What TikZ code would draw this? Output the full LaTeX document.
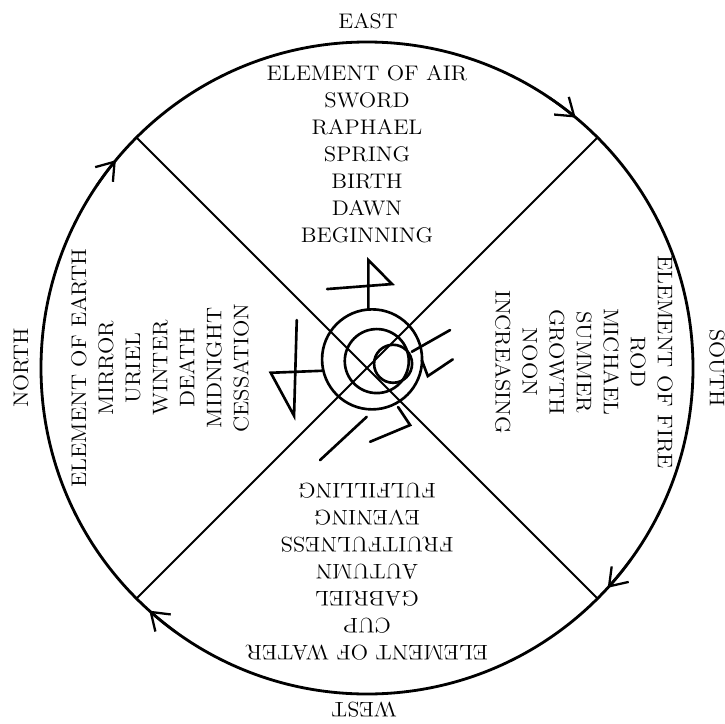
\documentclass[tikz,border=0pt]{standalone}
\usepackage{tikz}
\usetikzlibrary{arrows.meta}

\begin{document}
\begin{tikzpicture}[
  rim/.style={line width=1.6pt},
  spoke/.style={line width=1.1pt},
  arr/.style={line width=1.4pt, -{Straight Barb[length=0.33cm, width=0.46cm, line width=1.3pt]}},
  sigil/.style={line width=1.5pt, line cap=round, line join=miter},
  compass/.style={font=\fontsize{12}{15}\selectfont, inner sep=0pt, xscale=1.06},
  quarter/.style={font=\fontsize{12}{15.4}\selectfont, align=center, inner sep=0pt, xscale=1.08},
]
\useasboundingbox (-7.34,-7.1) rectangle (7.16,7.36);

% the wheel
\draw[rim] (0,0) circle (6.52);
\coordinate (ne) at (45:6.52);
\coordinate (se) at (-45:6.52);
\coordinate (sw) at (225:6.52);
\coordinate (nw) at (135:6.52);
\draw[spoke] (nw) -- (se);
\draw[spoke] (ne) -- (sw);

% clockwise arrows on the rim
\draw[arr] (56:6.52) arc[start angle=56, end angle=50.2, radius=6.52];
\draw[arr] (-36:6.52) arc[start angle=-36, end angle=-42.4, radius=6.52];
\draw[arr] (234:6.52) arc[start angle=234, end angle=228.1, radius=6.52];
\draw[arr] (146:6.52) arc[start angle=146, end angle=140.4, radius=6.52];

% quarters
\node[compass] (east) at (0.02,6.94) {EAST};
\node[rotate=-90, compass] (south) at (7.0,0) {SOUTH};
\node[rotate=180, compass] (west) at (-0.06,-6.84) {WEST};
\node[rotate=90, compass] (north) at (-6.92,0) {NORTH};

\node[quarter] (air) at (0,4.28)
  {ELEMENT OF AIR\\SWORD\\RAPHAEL\\SPRING\\BIRTH\\DAWN\\BEGINNING};
\node[rotate=-90, quarter] (fire) at (4.34,0.12)
  {ELEMENT OF FIRE\\ROD\\MICHAEL\\SUMMER\\GROWTH\\NOON\\INCREASING};
\node[rotate=180, quarter] (water) at (0,-4.08)
  {ELEMENT OF WATER\\CUP\\GABRIEL\\AUTUMN\\FRUITFULNESS\\EVENING\\FULFILLING};
\node[rotate=90, quarter] (earth) at (-4.14,0)
  {ELEMENT OF EARTH\\MIRROR\\URIEL\\WINTER\\DEATH\\MIDNIGHT\\CESSATION};

% the sigil in the middle (pixel grid)
\begin{scope}[shift={(-7.34cm,7.36cm)}, x=0.02cm, y=-0.02cm, sigil]
  \draw (372,359.3) circle[radius=50];
  \draw (376.7,361) circle[radius=32];
  \draw (393,363.7) circle[radius=19];
  % top
  \draw (368.3,309.5) -- (368.3,260) -- (392,284) -- (327,289);
  % left
  \draw (322,370.7) -- (270.7,372.7) -- (294,415.7) -- (296.7,320);
  % right
  \draw (411.7,351.7) -- (450,330);
  \draw (421.7,360) -- (427.7,376) -- (452.7,359.3);
  % bottom
  \draw (398,407) -- (410,425) -- (370,441.7);
  \draw (320,460) -- (366.7,416.7);
\end{scope}
\end{tikzpicture}
\end{document}
